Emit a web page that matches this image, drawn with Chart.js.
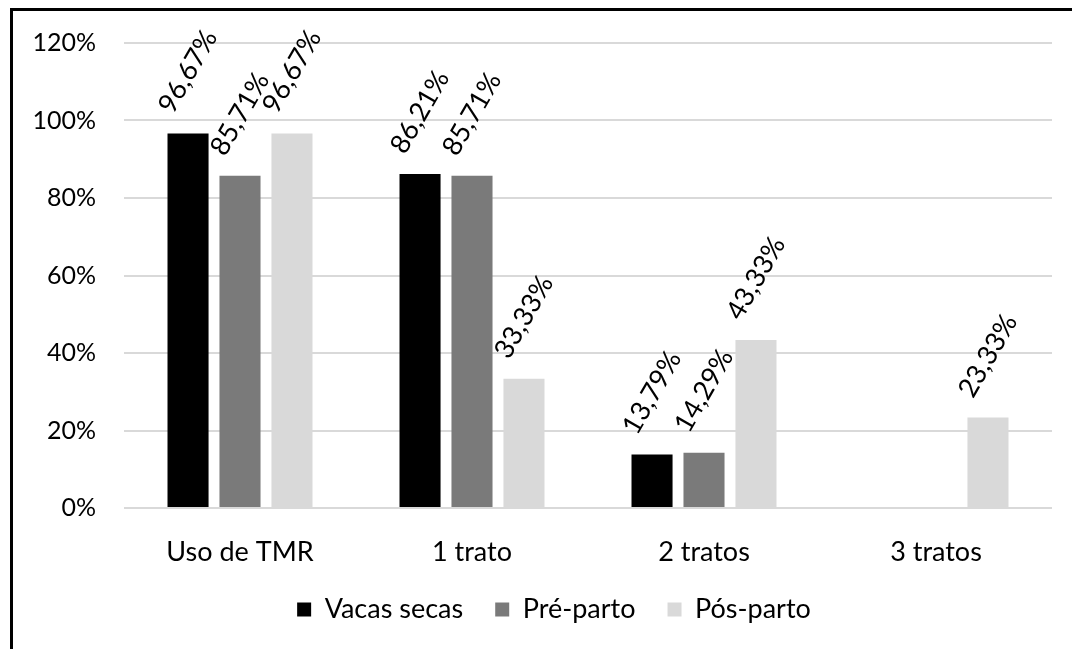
<!DOCTYPE html>
<html>
<head>
<meta charset="utf-8">
<script src="https://cdn.jsdelivr.net/npm/chart.js@4/dist/chart.umd.min.js"></script>
<style>
  body { margin: 0; background: #fff; }
  #wrap { position: relative; width: 1072px; height: 649px; overflow: hidden; }
  #frame { position: absolute; left: 10px; top: 8px; width: 1100px; height: 700px;
           border-left: 3px solid #000; border-top: 3px solid #000; pointer-events: none; }
</style>
</head>
<body>
<div id="wrap">
  <canvas id="chart" width="1072" height="649"></canvas>
  <div id="frame"></div>
</div>
<script>
// categories and series (percent)
const categories = ['Uso de TMR', '1 trato', '2 tratos', '3 tratos'];
const vacasSecas = [96.67, 86.21, 13.79, null];
const preParto = [85.71, 85.71, 14.29, null];
const posParto = [96.67, 33.33, 43.33, 23.33];
const yTicks = [0, 20, 40, 60, 80, 100, 120];

const fontFamily = 'Lato, "Open Sans", sans-serif';

function fmt(v) {
    return v.toFixed(2).replace('.', ',') + '%';
}

// draws the rotated value labels above each bar
const rotatedLabels = {
    id: 'rotatedLabels',
    afterLayout(chart) {
        // legend sits a bit right of the canvas centre in the original
        chart.legend.left += 56;
    },
    afterDatasetsDraw(chart) {
        const ctx = chart.ctx;
        const angle = -60 * Math.PI / 180;
        ctx.save();
        ctx.font = '27px ' + fontFamily;
        ctx.fillStyle = '#000';
        ctx.textAlign = 'center';
        ctx.textBaseline = 'middle';
        chart.data.datasets.forEach((ds, i) => {
            const meta = chart.getDatasetMeta(i);
            meta.data.forEach((bar, j) => {
                const v = ds.data[j];
                if (v === null || v === undefined) return;
                const txt = fmt(v);
                const w = ctx.measureText(txt).width;
                const boxH = w * Math.sin(Math.PI / 3) + 19 * Math.cos(Math.PI / 3);
                const cx = bar.x;
                const cy = bar.y - 18 - boxH / 2;
                ctx.save();
                ctx.translate(cx, cy);
                ctx.rotate(angle);
                ctx.fillText(txt, 0, 0);
                ctx.restore();
            });
        });
        ctx.restore();
    }
};

new Chart(document.getElementById('chart'), {
    type: 'bar',
    data: {
        labels: categories,
        datasets: [
            { label: 'Vacas secas', data: vacasSecas, backgroundColor: '#000000', borderWidth: 0 },
            { label: 'Pré-parto', data: preParto, backgroundColor: '#7a7a7a', borderWidth: 0 },
            { label: 'Pós-parto', data: posParto, backgroundColor: '#d9d9d9', borderWidth: 0 }
        ]
    },
    options: {
        responsive: false,
        animation: false,
        devicePixelRatio: 1,
        layout: { padding: { left: 0, right: 20, top: 42, bottom: 16 } },
        datasets: { bar: { categoryPercentage: 0.672, barPercentage: 0.79 } },
        plugins: {
            tooltip: { enabled: false },
            legend: {
                position: 'bottom',
                labels: {
                    font: { family: fontFamily, size: 27 },
                    color: '#000',
                    boxWidth: 14,
                    boxHeight: 14,
                    padding: 32
                }
            }
        },
        scales: {
            x: {
                grid: { display: false },
                border: { display: false },
                ticks: { font: { family: fontFamily, size: 27 }, color: '#000', padding: 20 },
                afterFit(s) { s.height = 56; }
            },
            y: {
                min: 0,
                max: 120,
                afterBuildTicks(s) { s.ticks = yTicks.map(v => ({ value: v })); },
                grid: { color: '#d9d9d9', lineWidth: 2, drawTicks: false },
                border: { display: false },
                ticks: {
                    font: { family: fontFamily, size: 25 },
                    color: '#000',
                    padding: 28,
                    callback: v => v + '%'
                },
                afterFit(s) { s.width = 124; }
            }
        }
    },
    plugins: [rotatedLabels]
});
</script>
</body>
</html>
